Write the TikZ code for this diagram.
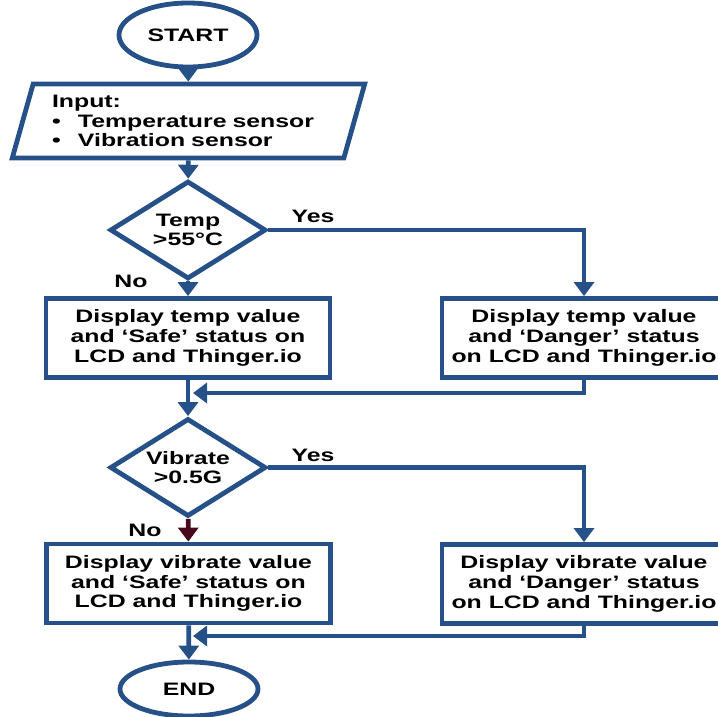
\documentclass[tikz,border=0pt]{standalone}
\usepackage{fontspec}
\setmainfont[FakeStretch=1.38]{Liberation Sans}
\usepackage{tikz}
\usetikzlibrary{arrows.meta,shapes.geometric}
\definecolor{flowblue}{RGB}{38,80,136}
\definecolor{noarrow}{RGB}{74,8,28}

\begin{document}
\begin{tikzpicture}[x=0.75pt, y=-0.75pt, line width=3.6pt, >={Triangle[width=15pt,length=10.5pt]},
  every node/.style={font=\fontsize{13.5}{14.8}\selectfont\bfseries, align=center},
  term/.style={draw=flowblue, ellipse, minimum width=103.5pt, minimum height=48pt},
  iobox/.style={draw=flowblue, trapezium, trapezium left angle=71.3, trapezium right angle=108.7,
    trapezium stretches=true, minimum width=264.75pt, minimum height=55.5pt, inner sep=1pt},
  decision/.style={draw=flowblue, diamond, aspect=1.625, inner sep=1pt, minimum width=117pt, minimum height=73.5pt},
  process/.style={draw=flowblue, rectangle, minimum width=213pt, minimum height=59.25pt, inner sep=0pt},
  flow/.style={draw=flowblue, ->},
  noflow/.style={draw=noarrow, ->}]
\useasboundingbox (0,0) rectangle (718,717);

% shapes
\draw
  node (start) at (188,35) [term] {START}
  node (input) at (188.5,121) [iobox, text width=204.75pt, align=left]
    {Input:\\\makebox[19.5pt][l]{•}Temperature sensor\\\makebox[19.5pt][l]{•}Vibration sensor}
  node (temp) at (188,230) [decision] {Temp\\>55°C}
  node (safe1) at (188,338) [process] {Display temp value\\and ‘Safe’ status on\\LCD and Thinger.io}
  node (danger1) at (584,338) [process] {Display temp value\\and ‘Danger’ status\\on LCD and Thinger.io}
  node (vib) at (188,467.5) [decision] {Vibrate\\>0.5G}
  node (safe2) at (188.5,583.5) [process] {Display vibrate value\\and ‘Safe’ status on\\LCD and Thinger.io}
  node (danger2) at (584,584) [process] {Display vibrate value\\and ‘Danger’ status\\on LCD and Thinger.io}
  node (end) at (189,689) [term, minimum height=40.5pt] {END};

% labels
\draw
  node (yes1) at (313,216) {Yes}
  node (no1) at (131,281) {No}
  node (yes2) at (313,455) {Yes}
  node (no2) at (145,530) {No};

\coordinate (join1) at (193,393);
\coordinate (join2) at (193,636);

% connectors
\draw[flow] (start) -- (input);
\draw[flow] (input) -- (temp);
\draw[flow] (temp) -- (safe1);
\draw[flow] (temp.east) -| (danger1.north);
\draw[flow] (safe1) -- (vib);
\draw[flow] (danger1.south) |- (join1);
\draw[noflow] (vib) -- (safe2);
\draw[flow] (vib.east) -| (danger2.north);
\draw[flow] (safe2) -- (end);
\draw[flow] (danger2.south) |- (join2);
\end{tikzpicture}
\end{document}
